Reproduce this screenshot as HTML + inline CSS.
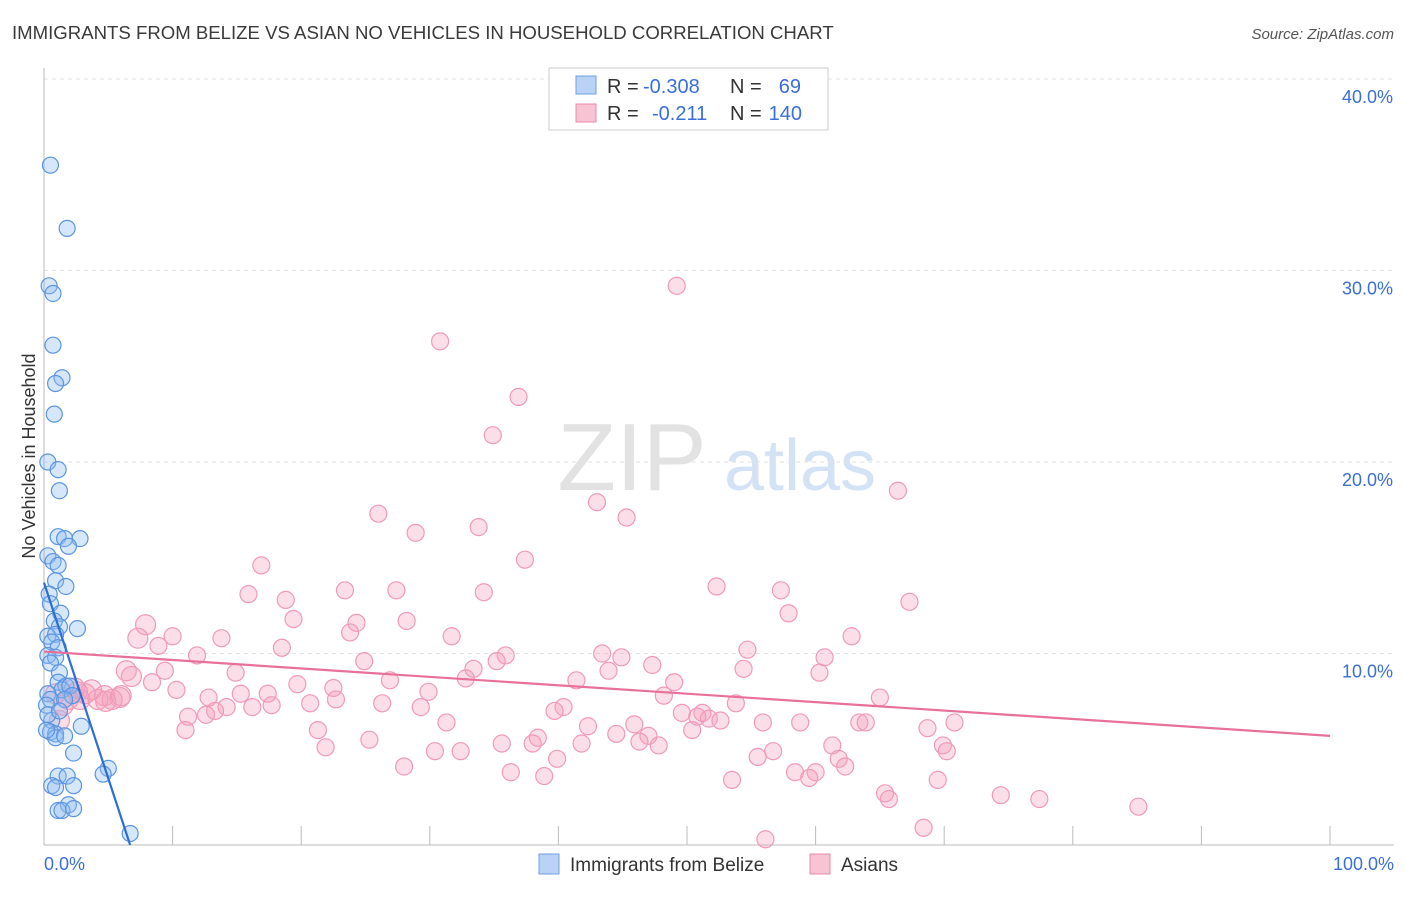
<!DOCTYPE html>
<html><head><meta charset="utf-8"><style>
body{margin:0;background:#fff;font-family:"Liberation Sans",sans-serif;}
svg text{font-family:"Liberation Sans",sans-serif;}
</style></head><body>
<svg id="chart" width="1406" height="892">
<text x="12" y="39" font-size="18.6" fill="#3a3a3a">IMMIGRANTS FROM BELIZE VS ASIAN NO VEHICLES IN HOUSEHOLD CORRELATION CHART</text>
<text x="1394" y="39" font-size="15" fill="#555" text-anchor="end" font-style="italic">Source: ZipAtlas.com</text>
<g><text x="632" y="490" font-size="96" fill="#e2e2e2" text-anchor="middle" font-family="Liberation Serif">ZIP</text><text x="800" y="490" font-size="72" fill="#d3e2f5" text-anchor="middle">atlas</text></g>
<g id="grid"></g><g id="axes"></g><g id="pts"></g><g id="trend"></g>
<text x="35" y="456" font-size="18" fill="#333" text-anchor="middle" transform="rotate(-90 35 456)">No Vehicles in Household</text>
<g>
<rect x="549" y="68" width="279" height="62" fill="#fff" stroke="#ccc"/>
<rect x="576" y="76" width="20" height="18" fill="#b8d3f5" stroke="#6f9fe0"/>
<rect x="576" y="104" width="20" height="18" fill="#f8c3d3" stroke="#e88aaa"/>
<text x="607" y="93" font-size="20" fill="#333">R =</text>
<text x="643" y="93" font-size="20" fill="#3a6fd8">-0.308</text>
<text x="730" y="93" font-size="20" fill="#333">N =</text>
<text x="801" y="93" font-size="20" fill="#3a6fd8" text-anchor="end">69</text>
<text x="607" y="120" font-size="20" fill="#333">R =</text>
<text x="652" y="120" font-size="20" fill="#3a6fd8">-0.211</text>
<text x="730" y="120" font-size="20" fill="#333">N =</text>
<text x="802" y="120" font-size="20" fill="#3a6fd8" text-anchor="end">140</text>
</g>
<g>
<rect x="539" y="854" width="20" height="20" fill="#b8d3f5" stroke="#6f9fe0"/>
<text x="570" y="871" font-size="19" fill="#333">Immigrants from Belize</text>
<rect x="810" y="854" width="20" height="20" fill="#f8c3d3" stroke="#e88aaa"/>
<text x="841" y="871" font-size="19" fill="#333">Asians</text>
</g>
</svg>
<script>
const yTicks=[10,20,30,40];
const yTickLabels=["10.0%","20.0%","30.0%","40.0%"];
const xTicks=[0,10,20,30,40,50,60,70,80,90,100];
const blueX=[0.5,1.8,0.4,0.7,0.7,1.4,0.9,0.8,0.3,1.1,1.2,1.1,1.6,2.8,1.9,0.3,0.7,1.1,0.9,1.7,0.4,0.5,1.3,0.8,1.2,2.6,0.3,0.9,0.6,1.1,0.3,0.9,0.5,1.2,1.1,1.7,1.4,2.0,0.3,2.2,0.5,1.6,0.2,0.6,2.9,0.5,0.9,0.9,1.6,2.3,5.0,4.6,1.1,1.8,0.6,2.3,0.9,1.9,1.1,1.4,2.3,6.7,0.2,0.3,1.2];
const blueY=[35.5,32.2,29.2,28.8,26.1,24.4,24.1,22.5,20.0,19.6,18.5,16.1,16.0,16.0,15.6,15.1,14.8,14.6,13.8,13.5,13.1,12.6,12.1,11.7,11.4,11.3,10.9,11.0,10.6,10.3,9.9,9.8,9.5,9.0,8.5,8.3,8.1,8.3,7.9,7.8,7.6,7.6,7.3,6.5,6.2,5.9,5.8,5.6,5.7,4.8,4.0,3.7,3.6,3.6,3.1,3.1,3.0,2.1,1.8,1.8,1.9,0.6,6.0,6.8,7.0];
const pinkX=[49.2,30.8,36.9,34.9,66.4,43.0,45.3,26.0,33.8,28.9,37.4,16.9,52.3,15.9,57.3,23.4,27.4,34.2,18.8,67.3,57.9,19.4,24.3,28.2,7.9,23.8,10.0,7.3,13.8,31.7,62.8,8.9,18.5,54.7,43.4,44.9,35.9,60.7,11.9,35.2,24.9,47.3,54.4,6.4,9.4,33.4,14.9,43.9,60.3,6.8,32.8,26.9,41.4,8.4,49.0,19.7,10.3,22.5,29.9,48.2,15.3,17.4,12.8,65.0,5.9,4.7,3.7,5.3,2.8,20.7,22.7,26.3,53.8,14.2,16.2,40.4,17.7,29.3,39.7,13.3,49.6,51.2,11.2,12.6,50.8,51.7,52.6,58.8,55.9,31.3,45.9,63.4,63.9,70.8,42.3,68.7,21.3,11.0,50.4,44.5,47.0,38.4,25.3,38.0,41.8,35.6,46.3,47.8,61.3,69.9,21.9,30.4,32.4,70.2,56.7,55.5,61.8,39.9,62.3,28.0,36.3,58.4,60.0,38.9,59.5,53.5,69.5,65.4,65.7,74.4,77.4,85.1,68.4,56.1,1.2,0.9,1.9,4.2,3.2,2.4,1.5,4.8,6.0,2.6];
const pinkY=[29.2,26.3,23.4,21.4,18.5,17.9,17.1,17.3,16.6,16.3,14.9,14.6,13.5,13.1,13.3,13.3,13.3,13.2,12.8,12.7,12.1,11.8,11.6,11.7,11.5,11.1,10.9,10.8,10.8,10.9,10.9,10.4,10.3,10.2,10.0,9.8,9.9,9.8,9.9,9.6,9.6,9.4,9.2,9.1,9.1,9.2,9.0,9.1,9.0,8.8,8.7,8.6,8.6,8.5,8.5,8.4,8.1,8.2,8.0,7.8,7.9,7.9,7.7,7.7,7.7,7.8,8.1,7.6,7.6,7.4,7.6,7.4,7.4,7.2,7.2,7.2,7.3,7.2,7.0,7.0,6.9,6.9,6.7,6.8,6.7,6.6,6.5,6.4,6.4,6.4,6.3,6.4,6.4,6.4,6.2,6.1,6.0,6.0,6.0,5.8,5.7,5.6,5.5,5.3,5.3,5.3,5.4,5.2,5.2,5.2,5.1,4.9,4.9,4.9,4.9,4.6,4.5,4.5,4.1,4.1,3.8,3.8,3.8,3.6,3.5,3.4,3.4,2.7,2.4,2.6,2.4,2.0,0.9,0.3,6.5,7.9,7.6,7.6,7.9,8.2,7.3,7.5,7.8,8.0];
const blueTrend=[13.7,0];
const blueTrendX=[0,6.7];
const pinkTrend=[10.1,5.7];
const pinkTrendX=[0,100];
const NS="http://www.w3.org/2000/svg";
function X(v){return 44+v*12.86;}
function Y(v){return 845-v*19.15;}
function mk(t,a,p){const e=document.createElementNS(NS,t);for(const k in a)e.setAttribute(k,a[k]);document.getElementById(p).appendChild(e);return e;}
yTicks.forEach((t,i)=>{
 const l=mk('line',{x1:44,x2:1394,y1:Y(t),y2:Y(t),stroke:'#e2e2e2','stroke-dasharray':'4,4'},'grid');
 
 
 const tx=mk('text',{x:1393,y:Y(t)+24,'font-size':18,fill:'#3a6fd8','text-anchor':'end'},'grid');
 tx.textContent=yTickLabels[i];
 
 
});
let a=mk('line',{x1:44,x2:44,y1:68,y2:845,stroke:'#bbb'},'axes');


a=mk('line',{x1:44,x2:1394,y1:845,y2:845,stroke:'#bbb'},'axes');


xTicks.forEach(t=>{const l=mk('line',{x1:X(t),x2:X(t),y1:826,y2:845,stroke:'#bbb'},'axes');
 
 });
let t0=mk('text',{x:44,y:870,'font-size':18,fill:'#3a6fd8'},'axes');t0.textContent='0.0%';


let t1=mk('text',{x:1394,y:870,'font-size':18,fill:'#3a6fd8','text-anchor':'end'},'axes');t1.textContent='100.0%';


pinkX.forEach((v,i)=>{const c=mk('circle',{cx:X(v),cy:Y(pinkY[i]),r:v<8?10:8.5,fill:'rgba(244,160,188,0.35)',stroke:'#f09ab6','stroke-width':1.2},'pts');
 
 });
blueX.forEach((v,i)=>{const c=mk('circle',{cx:X(v),cy:Y(blueY[i]),r:8,fill:'rgba(140,185,240,0.35)',stroke:'#5b95e0','stroke-width':1.2},'pts');
 
 });
let bl=mk('line',{x1:X(blueTrendX[0]),y1:Y(blueTrend[0]),x2:X(blueTrendX[1]),y2:Y(blueTrend[1]),stroke:'#2a6fd8','stroke-width':2.2},'trend');


let pl=mk('line',{x1:X(pinkTrendX[0]),y1:Y(pinkTrend[0]),x2:X(pinkTrendX[1]),y2:Y(pinkTrend[1]),stroke:'#e8709a','stroke-width':2.2},'trend');


</script>
</body></html>
